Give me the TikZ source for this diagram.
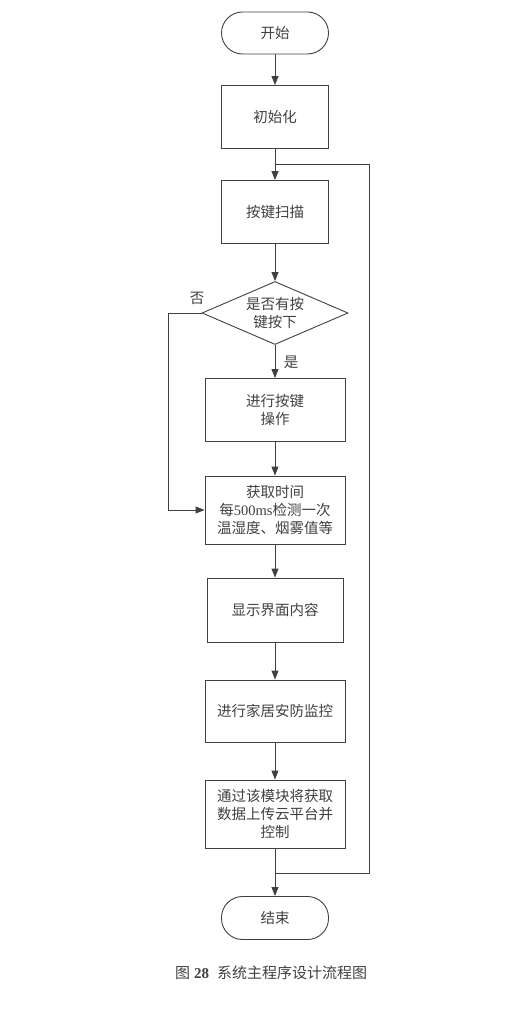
\documentclass[tikz,border=0pt]{standalone}
\usepackage{fontspec}
\setmainfont{Liberation Serif}
\newfontfamily\cjk{Noto Sans CJK SC}
\usepackage{tikz}
\usetikzlibrary{shapes.geometric,arrows.meta}
\definecolor{linegray}{HTML}{404040}

\begin{document}
\begin{tikzpicture}[x=1pt, y=-1pt, >={Triangle[length=9pt,width=7pt]},
        every node/.style={font=\cjk\fontsize{14.5}{18}\selectfont, text=linegray, align=center},
        term/.style={draw=linegray, line width=0.9pt, rectangle, rounded corners=21pt, minimum width=107pt, minimum height=42pt},
        proc/.style={draw=linegray, line width=0.9pt, rectangle, minimum width=140pt, minimum height=63pt},
        decide/.style={draw=linegray, line width=0.9pt, diamond, aspect=2.3, inner sep=0pt, minimum width=146pt, minimum height=63pt},
        flow/.style={draw=linegray, line width=0.9pt, ->}]
    \useasboundingbox (0,0) rectangle (514,1024);
            \node[term] (start) at (275,33) {开始};
            \node[proc, minimum width=107pt] (init) at (275,117) {初始化};
            \node[proc, minimum width=107pt] (scan) at (275,212) {按键扫描};
            \node[decide] (press) at (275,313) {是否有按\\键按下};
            \node[proc] (act) at (275,410) {进行按键\\操作};
            \node[proc, minimum height=68pt] (sense) at (275,510) {获取时间\\每{\rmfamily 500ms}检测一次\\温湿度、烟雾值等};
            \node[proc, minimum width=136pt, minimum height=64pt] (show) at (275,610) {显示界面内容};
            \node[proc, minimum height=62pt] (guard) at (275,711) {进行家居安防监控};
            \node[proc, minimum height=68pt] (cloud) at (275,814) {通过该模块将获取\\数据上传云平台并\\控制};
            \node[term, minimum height=43pt] (stop) at (275,918) {结束};
            \node (no) at (197,298) {否};
            \node (yes) at (291,362) {是};
            \node[font=\cjk\fontsize{15}{18}\selectfont] (cap) at (271,973) {图\hspace{4pt}{\rmfamily\bfseries 28}\hspace{8pt}系统主程序设计流程图};
            \coordinate (jt) at (275,164);
            \coordinate (rt) at (369,164);
            \coordinate (jb) at (275,873);
            \draw[flow] (start) -- (init);
            \draw[flow] (init) -- (scan);
            \draw[flow] (scan) -- (press);
            \draw[flow] (press) -- (act);
            \draw[flow] (act) -- (sense);
            \draw[flow] (sense) -- (show);
            \draw[flow] (show) -- (guard);
            \draw[flow] (guard) -- (cloud);
            \draw[flow] (cloud) -- (stop);
            \draw[flow] (press.west) -- ++(-33,0) |- (sense.west);
            \draw[draw=linegray, line width=0.9pt] (jb) -| (rt) -- (jt);
        \end{tikzpicture}
\end{document}
